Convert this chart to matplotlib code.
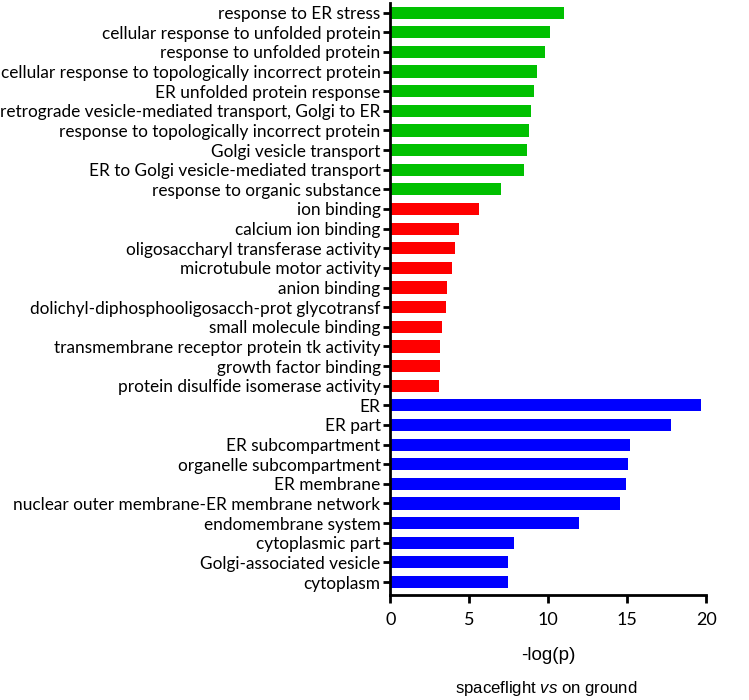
import matplotlib
matplotlib.use("Agg")
import matplotlib.pyplot as plt

plt.rcParams['font.family'] = ['Lato', 'DejaVu Sans']
plt.rcParams['mathtext.fontset'] = 'custom'
plt.rcParams['mathtext.rm'] = 'Liberation Sans'
plt.rcParams['mathtext.it'] = 'Liberation Sans:italic'

bp_terms = ["response to ER stress", "cellular response to unfolded protein",
            "response to unfolded protein", "cellular response to topologically incorrect protein",
            "ER unfolded protein response", "retrograde vesicle-mediated transport, Golgi to ER",
            "response to topologically incorrect protein", "Golgi vesicle transport",
            "ER to Golgi vesicle-mediated transport", "response to organic substance"]
bp_values = [11.02, 10.12, 9.78, 9.26, 9.09, 8.88, 8.80, 8.67, 8.48, 7.02]

mf_terms = ["ion binding", "calcium ion binding", "oligosaccharyl transferase activity",
            "microtubule motor activity", "anion binding",
            "dolichyl-diphosphooligosacch-prot glycotransf", "small molecule binding",
            "transmembrane receptor protein tk activity", "growth factor binding",
            "protein disulfide isomerase activity"]
mf_values = [5.63, 4.36, 4.08, 3.94, 3.62, 3.56, 3.27, 3.16, 3.14, 3.10]

cc_terms = ["ER", "ER part", "ER subcompartment", "organelle subcompartment", "ER membrane",
            "nuclear outer membrane-ER membrane network", "endomembrane system",
            "cytoplasmic part", "Golgi-associated vesicle", "cytoplasm"]
cc_values = [19.65, 17.76, 15.14, 15.04, 14.95, 14.55, 11.94, 7.85, 7.44, 7.44]

x_ticks = [0, 5, 10, 15, 20]

fig = plt.figure(figsize=(7.49, 7.0), dpi=100)
ax = fig.add_axes([0.521, 0.15, 0.422, 0.846])

labels = bp_terms + mf_terms + cc_terms
values = bp_values + mf_values + cc_values
colors = ['#00C000'] * len(bp_terms) + ['#FF0000'] * len(mf_terms) + ['#0000FF'] * len(cc_terms)
pos = list(range(len(labels)))

ax.barh(pos, values, height=0.62, color=colors, edgecolor='none')
ax.set_yticks(pos)
ax.set_yticklabels(labels, fontsize=12.4)
ax.set_ylim(len(labels) - 1 + 0.66, -0.5)
ax.set_xlim(0, 20)
ax.set_xticks(x_ticks)
ax.set_xticklabels([str(t) for t in x_ticks], fontsize=13)

for s in ['top', 'right']:
    ax.spines[s].set_visible(False)
for s in ['left', 'bottom']:
    ax.spines[s].set_linewidth(2)
ax.tick_params(axis='y', length=5, width=2, pad=2)
ax.tick_params(axis='x', length=6, width=2, pad=6)

fig.text(0.732, 0.064, '-log(p)', ha='center', va='center', fontsize=13.6,
         family='Liberation Sans')
fig.text(0.730, 0.017, r'spaceflight $\mathit{vs}$ on ground', ha='center', va='center',
         fontsize=12.1, family='Liberation Sans')

fig.savefig('out.png', dpi=100)
